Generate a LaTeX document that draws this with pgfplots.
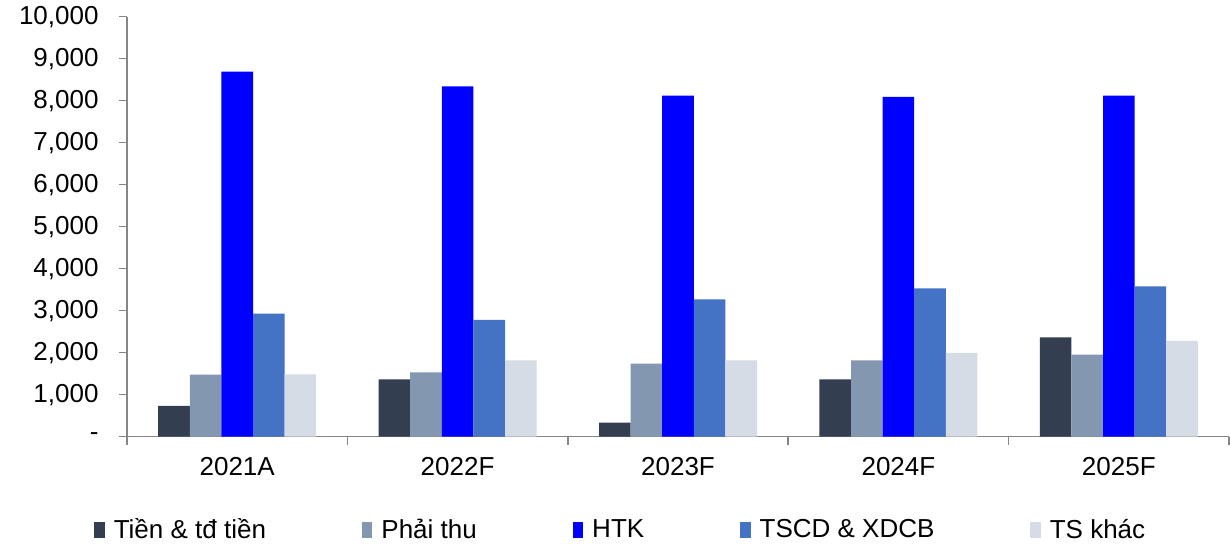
\documentclass[border=0pt]{standalone}
\usepackage{pgfplots}
\pgfplotsset{compat=1.18}
\usepackage{fontspec}
\setmainfont{Liberation Sans}
\definecolor{cTien}{HTML}{333F50}
\definecolor{cPT}{HTML}{8497B0}
\definecolor{cHTK}{HTML}{0000FF}
\definecolor{cTSCD}{HTML}{4472C4}
\definecolor{cTSK}{HTML}{D6DCE5}
\definecolor{axisgray}{HTML}{868686}
\begin{document}
\begin{tikzpicture}
\begin{axis}[
  scale only axis,
  width=551pt, height=210pt,
  ymin=0, ymax=10000,
  xmin=-0.5, xmax=4.5,
  scaled y ticks=false,
  ybar=0pt, bar width=15.8pt,
  axis x line*=bottom, axis y line*=left,
  axis line style={-, draw=axisgray, line width=0.8pt},
  tick style={draw=axisgray, line width=0.8pt},
  tick align=outside,
  major tick length=4pt,
  ytick={0,1000,2000,3000,4000,5000,6000,7000,8000,9000,10000},
  yticklabels={-,{1,000},{2,000},{3,000},{4,000},{5,000},{6,000},{7,000},{8,000},{9,000},{10,000}},
  xtick={-0.5,0.5,1.5,2.5,3.5,4.5},
  x tick label as interval,
  xticklabels={2021A,2022F,2023F,2024F,2025F},
  ticklabel style={font=\fontsize{13pt}{15pt}\selectfont},
  yticklabel style={xshift=-6.7pt},
  xticklabel style={yshift=-2.7pt},
  legend columns=5,
  legend style={at={(0.449,-0.222)}, anchor=center, draw=none, fill=none,
    font=\fontsize{13pt}{15pt}\selectfont,
    /tikz/every even column/.append style={column sep=46pt},
    /tikz/every odd column/.append style={column sep=2.5pt}},
  legend image code/.code={\fill[#1] (0pt,-3.8pt) rectangle (5.2pt,3.8pt);},
]
\addplot[fill=cTien, draw=none] coordinates {(0,731) (1,1367) (2,333) (3,1367) (4,2367)};
\addplot[fill=cPT, draw=none] coordinates {(0,1480) (1,1533) (2,1738) (3,1819) (4,1952)};
\addplot[fill=cHTK, draw=none] coordinates {(0,8690) (1,8343) (2,8119) (3,8088) (4,8119)};
\addplot[fill=cTSCD, draw=none] coordinates {(0,2929) (1,2779) (2,3271) (3,3533) (4,3581)};
\addplot[fill=cTSK, draw=none] coordinates {(0,1486) (1,1819) (2,1819) (3,1993) (4,2279)};
\legend{Tiền \& tđ tiền, Phải thu, HTK, TSCD \& XDCB, TS khác}
\end{axis}
\pgfresetboundingbox
\path[use as bounding box] (-63.5pt,-54.15pt) rectangle (551.5pt,218.35pt);
\end{tikzpicture}
\end{document}
